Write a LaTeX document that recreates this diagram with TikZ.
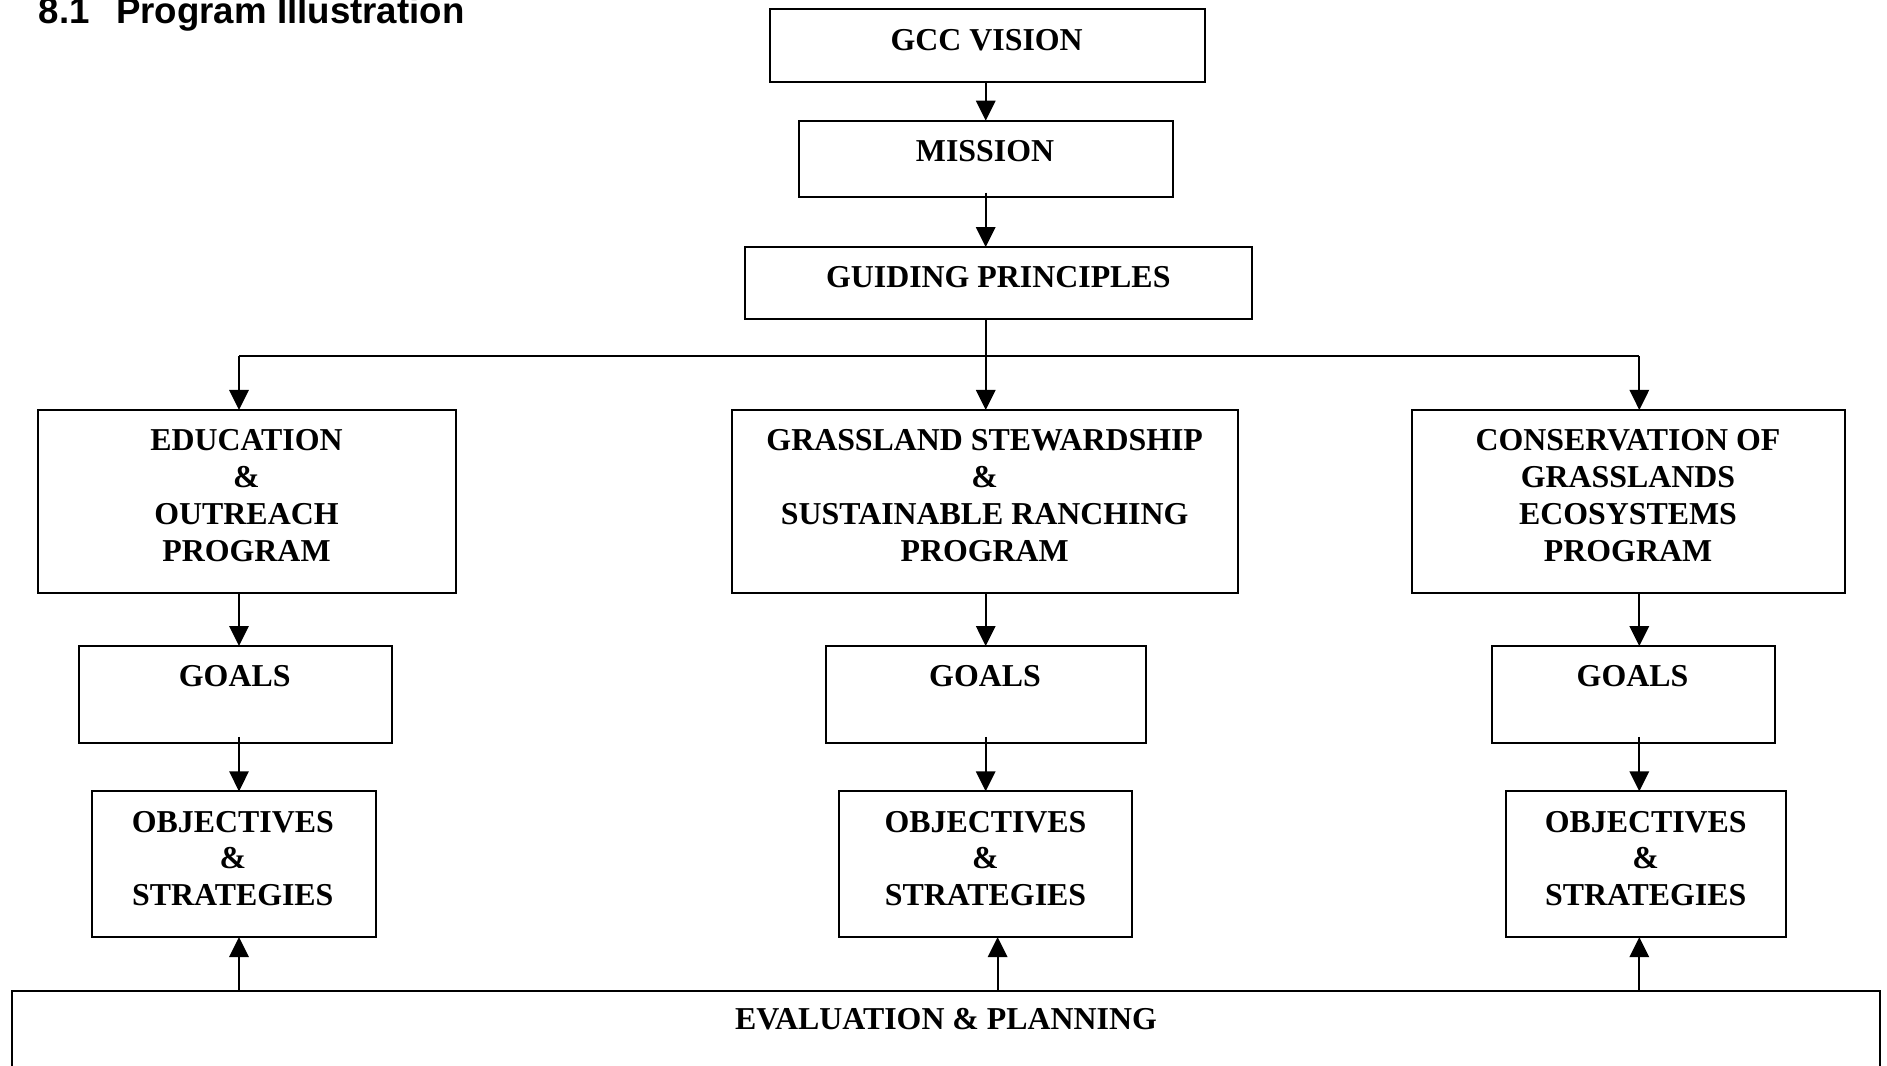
\documentclass[tikz,border=0pt]{standalone}
\usepackage{fontspec}
\setmainfont{Liberation Serif}
\setsansfont{Liberation Sans}
\usetikzlibrary{arrows.meta,calc}

\begin{document}
\begin{tikzpicture}[x=0.75pt,y=0.75pt,yscale=-1,
    box/.style={draw, line width=1.5pt, inner sep=0pt, outer sep=0pt},
    txt/.style={anchor=north, align=center, inner sep=0pt, font=\fontsize{23.9pt}{27.6pt}\selectfont\bfseries},
    arr/.style={line width=1.5pt, -{Triangle[length=15pt,width=14.5pt]}},
    bus/.style={line width=1.1pt}]
    \useasboundingbox (0,0) rectangle (1887,1065);
    \clip (0,0) rectangle (1887,1065);

    % Heading
    \node [anchor=base west, inner sep=0pt, font=\fontsize{27.5pt}{33pt}\selectfont\sffamily\bfseries] (heading) at (38.5,23) {\makebox[58pt][l]{8.1}Program Illustration};

    % column lines of the arrows
    \coordinate (c1) at (239,0);
    \coordinate (c2) at (985.7,0);
    \coordinate (c3) at (1639.3,0);
    \coordinate (cu2) at (997.6,0);

    %Shape: Rectangle (top of the chart)
    \node [box, minimum width=326.25pt, minimum height=54.3pt] (vision) at (987.5,45.5) {};
    \node [box, minimum width=280.5pt, minimum height=57.45pt] (mission) at (986,159) {};
    \node [box, minimum width=380.5pt, minimum height=54.2pt] (principles) at (998.3,283.2) {};

    %Shape: Rectangle (programs)
    \node [box, minimum width=313pt, minimum height=137pt] (edu) at (247,501.3) {};
    \node [box, minimum width=379.5pt, minimum height=137pt] (grass) at (984.7,501.3) {};
    \node [box, minimum width=324.75pt, minimum height=137pt] (cons) at (1628.5,501.3) {};

    %Shape: Rectangle (goals)
    \node [box, minimum width=234.75pt, minimum height=73pt] (goals1) at (235.5,694.7) {};
    \node [box, minimum width=240pt, minimum height=73pt] (goals2) at (985.7,694.7) {};
    \node [box, minimum width=212.25pt, minimum height=73pt] (goals3) at (1633.5,694.7) {};

    %Shape: Rectangle (objectives)
    \node [box, minimum width=213pt, minimum height=109.3pt] (obj1) at (233.7,864.2) {};
    \node [box, minimum width=220pt, minimum height=109.3pt] (obj2) at (985.7,864.2) {};
    \node [box, minimum width=210pt, minimum height=109.3pt] (obj3) at (1645.7,864.2) {};

    %Shape: Rectangle (runs off the page)
    \node [box, minimum width=1401pt, minimum height=82pt] (eval) at (946,1045.4) {};

    % Text Node
    \node [txt] (visiontxt) at (986.7,29) {GCC VISION};
    \node [txt] (missiontxt) at (985,140.2) {MISSION};
    \node [txt] (principlestxt) at (998.3,266.5) {GUIDING PRINCIPLES};
    \node [txt] (edutxt) at (246.5,429.5) {EDUCATION\\\&\\OUTREACH\\PROGRAM};
    \node [txt] (grasstxt) at (984.7,429.5) {GRASSLAND STEWARDSHIP\\\&\\SUSTAINABLE RANCHING\\PROGRAM};
    \node [txt] (constxt) at (1628,429.5) {CONSERVATION OF\\GRASSLANDS\\ECOSYSTEMS\\PROGRAM};
    \node [txt] (goals1txt) at (234.7,665.5) {GOALS};
    \node [txt] (goals2txt) at (985,665.5) {GOALS};
    \node [txt] (goals3txt) at (1632.5,665.5) {GOALS};
    \node [txt] (obj1txt) at (232.8,810.8) {OBJECTIVES\\\&\\STRATEGIES};
    \node [txt] (obj2txt) at (985.5,810.8) {OBJECTIVES\\\&\\STRATEGIES};
    \node [txt] (obj3txt) at (1645.7,810.8) {OBJECTIVES\\\&\\STRATEGIES};
    \node [txt] (evaltxt) at (946,1008) {EVALUATION \& PLANNING};

    %Straight Lines
    \draw [arr] (vision.south -| c2) -- (mission.north -| c2);
    \draw [arr] ($(mission.south -| c2)+(0,-4.6)$) -- (principles.north -| c2);
    \draw [arr] (principles.south -| c2) -- (grass.north -| c2);
    \coordinate (busL) at (239,356);
    \coordinate (busR) at (1639.3,356);
    \draw [bus] (busL) -- (busR);
    \draw [arr] (busL) -- (edu.north -| busL);
    \draw [arr] (busR) -- (cons.north -| busR);

    \draw [arr] (edu.south -| c1) -- (goals1.north -| c1);
    \draw [arr] (grass.south -| c2) -- (goals2.north -| c2);
    \draw [arr] (cons.south -| c3) -- (goals3.north -| c3);

    \draw [arr] ($(goals1.south -| c1)+(0,-6.6)$) -- (obj1.north -| c1);
    \draw [arr] ($(goals2.south -| c2)+(0,-6.6)$) -- (obj2.north -| c2);
    \draw [arr] ($(goals3.south -| c3)+(0,-6.6)$) -- (obj3.north -| c3);

    \draw [arr] (eval.north -| c1) -- (obj1.south -| c1);
    \draw [arr] (eval.north -| cu2) -- (obj2.south -| cu2);
    \draw [arr] (eval.north -| c3) -- (obj3.south -| c3);

\end{tikzpicture}
\end{document}
